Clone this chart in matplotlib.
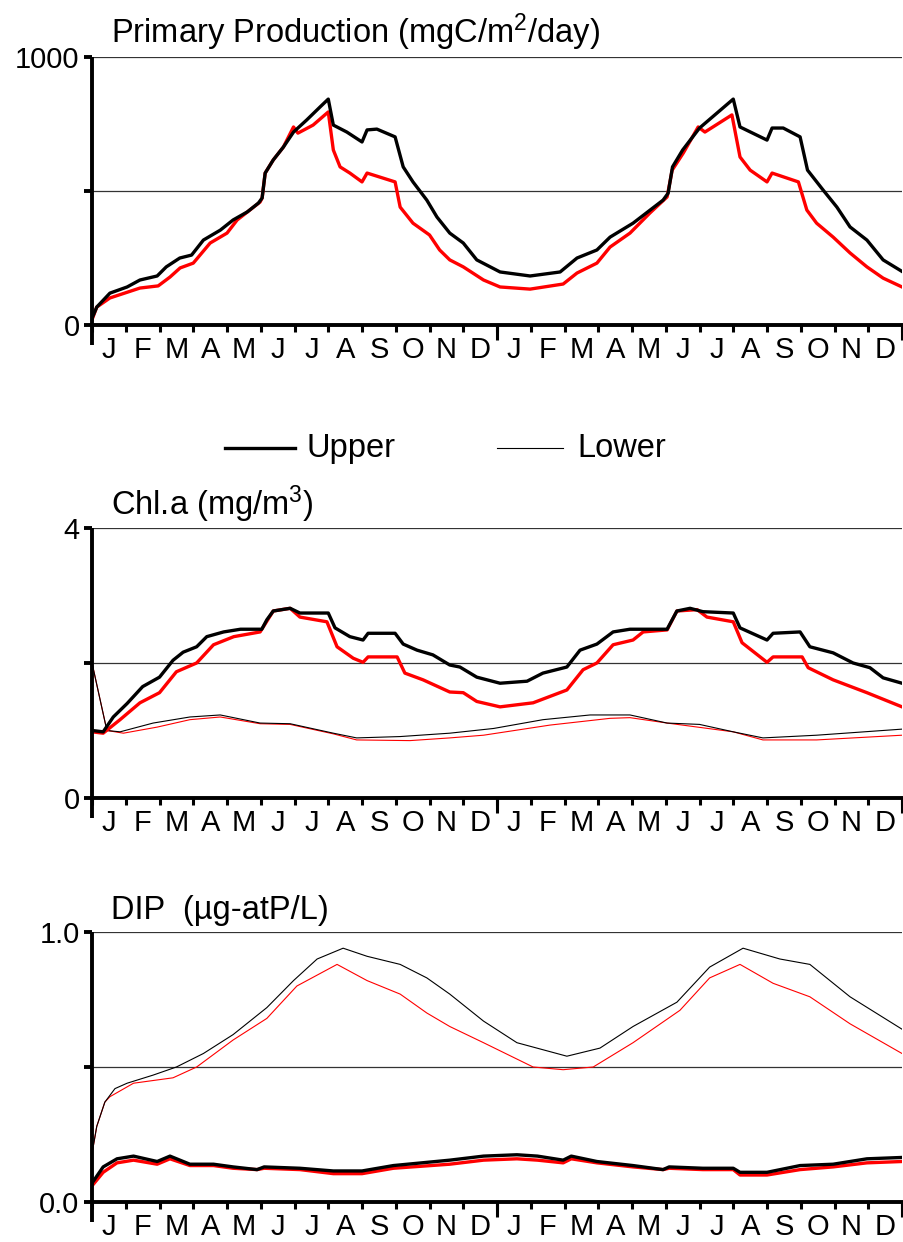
import numpy as np
import matplotlib
matplotlib.use('Agg')
import matplotlib.pyplot as plt
from matplotlib.lines import Line2D
from matplotlib.transforms import blended_transform_factory

plt.rcParams['font.family'] = ['Liberation Sans', 'DejaVu Sans']
plt.rcParams['mathtext.fontset'] = 'custom'
plt.rcParams['mathtext.rm'] = 'Liberation Sans'
plt.rcParams['mathtext.it'] = 'Liberation Sans'

months = ['J', 'F', 'M', 'A', 'M', 'J', 'J', 'A', 'S', 'O', 'N', 'D'] * 2

# ---- Primary production (mgC/m2/day), upper layer only ----
pp_up_black_m = [0, 0.14, 0.53, 1.04, 1.42, 1.93, 2.2, 2.6, 2.95, 3.3, 3.8, 4.18, 4.6, 4.93, 5.04,
                 5.13, 5.37, 5.67, 5.97, 6.36, 6.76, 7.0, 7.15, 7.55, 8.0, 8.15, 8.44, 8.98, 9.22,
                 9.51, 9.92, 10.22, 10.6, 11.0, 11.4, 12.09, 12.98, 13.87, 14.37, 14.96, 15.35,
                 16.03, 16.92, 17.07, 17.2, 17.5, 18.0, 19.0, 19.2, 20.0, 20.15, 20.48, 20.98,
                 21.2, 21.66, 22.07, 22.46, 22.96, 23.44, 24.0]
pp_up_black = [25, 67, 119, 142, 168, 183, 217, 250, 261, 317, 354, 392, 422, 455, 474,
               567, 616, 664, 720, 765, 814, 843, 746, 720, 683, 728, 731, 702, 590,
               534, 466, 403, 343, 306, 243, 198, 183, 198, 250, 280, 328,
               380, 466, 492, 590, 653, 735, 843, 739, 690, 735, 735, 702,
               578, 504, 440, 366, 317, 243, 200]
pp_up_red_m = [0, 0.14, 0.53, 1.42, 1.96, 2.31, 2.61, 3.0, 3.2, 3.5, 4.0, 4.3, 4.98, 5.04, 5.13,
               5.37, 5.67, 5.97, 6.1, 6.55, 7.0, 7.15, 7.35, 7.64, 8.0, 8.15, 8.98, 9.13, 9.51,
               10.0, 10.3, 10.6, 11.0, 11.6, 12.09, 12.98, 13.96, 14.37, 14.96, 15.35, 15.94,
               16.53, 17.04, 17.19, 17.52, 17.96, 18.16, 18.96, 19.2, 19.5, 20.0, 20.15, 20.93,
               21.18, 21.47, 21.96, 22.46, 22.96, 23.44, 24.0]
pp_up_red = [20, 67, 101, 138, 146, 179, 213, 231, 261, 306, 343, 392, 459, 474, 567,
             616, 664, 739, 716, 746, 795, 653, 590, 567, 534, 567, 534, 440, 380,
             336, 280, 243, 217, 168, 142, 134, 153, 194, 231, 291, 343,
             418, 478, 578, 642, 739, 720, 784, 627, 578, 534, 567, 534,
             429, 380, 328, 269, 217, 175, 142]

# ---- Chl.a (mg/m3) ----
chl_up_black_m = [0, 0.33, 0.63, 1.04, 1.5, 2.0, 2.4, 2.7, 3.1, 3.4, 3.9, 4.4, 5.03, 5.18, 5.37,
                  5.87, 6.16, 7.0, 7.2, 7.64, 8.03, 8.18, 8.98, 9.22, 9.63, 10.1, 10.6, 10.9,
                  11.4, 12.09, 12.89, 13.36, 14.07, 14.46, 14.96, 15.44, 15.94, 17.04, 17.33,
                  17.72, 18.1, 19.0, 19.2, 20.0, 20.18, 20.98, 21.27, 21.96, 22.55, 23.05, 23.44, 24.0]
chl_up_black = [1.0, 0.98, 1.2, 1.4, 1.65, 1.79, 2.04, 2.16, 2.24, 2.39, 2.46, 2.5, 2.5, 2.64, 2.77,
                2.81, 2.74, 2.74, 2.52, 2.39, 2.34, 2.44, 2.44, 2.28, 2.19, 2.12, 1.97, 1.94,
                1.79, 1.7, 1.73, 1.85, 1.94, 2.19, 2.28, 2.46, 2.5, 2.5, 2.77,
                2.81, 2.76, 2.74, 2.52, 2.34, 2.44, 2.46, 2.24, 2.15, 2.0, 1.93, 1.78, 1.7]
chl_up_red_m = [0, 0.33, 0.83, 1.42, 2.0, 2.5, 3.1, 3.6, 4.2, 4.98, 5.37, 5.87, 6.16, 6.96, 7.26,
                7.74, 8.03, 8.18, 9.04, 9.27, 9.81, 10.6, 11.0, 11.4, 12.09, 13.07, 14.07, 14.55,
                14.96, 15.44, 16.03, 16.33, 17.04, 17.33, 17.93, 18.22, 19.0, 19.26, 20.0, 20.18,
                21.04, 21.22, 21.96, 22.96, 24.0]
chl_up_red = [0.98, 0.96, 1.16, 1.41, 1.56, 1.87, 2.0, 2.27, 2.39, 2.46, 2.77, 2.81, 2.68, 2.61, 2.24,
              2.07, 2.01, 2.09, 2.09, 1.85, 1.75, 1.57, 1.56, 1.43, 1.35, 1.41, 1.6, 1.9,
              2.0, 2.27, 2.34, 2.46, 2.49, 2.77, 2.79, 2.68, 2.61, 2.3, 2.01, 2.09,
              2.09, 1.93, 1.75, 1.56, 1.35]
chl_lo_black_m = [0, 0.44, 0.83, 1.81, 2.9, 3.8, 4.98, 5.87, 7.15, 7.84, 9.13, 10.6, 11.9, 13.36,
                  14.76, 15.94, 17.04, 18.0, 19.0, 19.88, 21.47, 24.0]
chl_lo_black = [2.0, 1.0, 0.98, 1.11, 1.2, 1.23, 1.11, 1.1, 0.96, 0.89, 0.91, 0.96, 1.03, 1.16,
                1.23, 1.23, 1.11, 1.09, 0.98, 0.89, 0.93, 1.02]
chl_lo_red_m = [0, 0.44, 0.93, 1.93, 2.9, 3.8, 4.98, 5.87, 7.15, 7.84, 9.42, 10.6, 11.6, 13.57,
                15.35, 15.94, 17.04, 19.0, 19.88, 21.47, 24.0]
chl_lo_red = [2.0, 1.0, 0.96, 1.05, 1.16, 1.2, 1.1, 1.09, 0.95, 0.86, 0.85, 0.89, 0.93, 1.08,
              1.18, 1.19, 1.11, 0.98, 0.86, 0.86, 0.93]

# ---- DIP (ug-atP/L) ----
dip_lo_black_m = [0, 0.14, 0.38, 0.68, 1.04, 1.81, 2.5, 3.3, 4.18, 5.18, 5.97, 6.67, 7.44, 8.15,
                  9.13, 9.92, 10.6, 11.6, 12.59, 14.07, 15.05, 16.03, 17.33, 18.3, 19.29, 20.38,
                  21.27, 22.46, 24.0]
dip_lo_black = [0.18, 0.28, 0.37, 0.42, 0.44, 0.47, 0.5, 0.55, 0.62, 0.72, 0.82, 0.9, 0.94, 0.91,
                0.88, 0.83, 0.77, 0.67, 0.59, 0.54, 0.57, 0.65, 0.74, 0.87, 0.94, 0.9,
                0.88, 0.76, 0.64]
dip_lo_red_m = [0, 0.14, 0.38, 0.53, 1.23, 2.4, 3.1, 4.18, 5.18, 6.07, 7.26, 8.15, 9.13, 9.92,
                10.6, 11.6, 13.07, 13.96, 14.85, 16.03, 17.42, 18.3, 19.2, 20.18, 21.27, 22.46, 24.0]
dip_lo_red = [0.18, 0.28, 0.37, 0.39, 0.44, 0.46, 0.5, 0.6, 0.68, 0.8, 0.88, 0.82, 0.77, 0.7,
              0.65, 0.59, 0.5, 0.49, 0.5, 0.59, 0.71, 0.83, 0.88, 0.81, 0.76, 0.66, 0.55]
dip_up_m = [0, 0.33, 0.74, 1.23, 1.93, 2.31, 2.9, 3.6, 4.18, 4.89, 5.1, 6.16, 7.15, 8.0, 8.93,
            10.6, 11.6, 12.59, 13.2, 13.96, 14.2, 14.96, 16.03, 16.92, 17.1, 18.1, 19.0, 19.2,
            20.0, 20.98, 21.96, 22.96, 24.0]
dip_up_black = [0.07, 0.13, 0.16, 0.17, 0.15, 0.17, 0.14, 0.14, 0.13, 0.12, 0.13, 0.125, 0.115,
                0.115, 0.135, 0.155, 0.17, 0.175, 0.17, 0.155, 0.17, 0.15, 0.135, 0.12, 0.13,
                0.125, 0.125, 0.11, 0.11, 0.135, 0.14, 0.16, 0.165]
dip_up_red = [0.06, 0.11, 0.145, 0.155, 0.14, 0.16, 0.135, 0.135, 0.125, 0.12, 0.125, 0.12, 0.105,
              0.105, 0.125, 0.14, 0.155, 0.16, 0.155, 0.145, 0.16, 0.145, 0.13, 0.12, 0.125,
              0.12, 0.12, 0.1, 0.1, 0.12, 0.13, 0.145, 0.15]

THICK = 2.4
THIN = 0.8
SPINE = 2.8
FS = 21


def style_axis(ax, ymax, ylabels, title, title_dy):
    ax.set_xlim(0, 24)
    ax.set_ylim(0, ymax)
    for s in ['top', 'right']:
        ax.spines[s].set_visible(False)
    ax.spines['left'].set_linewidth(SPINE)
    ax.spines['bottom'].set_linewidth(SPINE)
    ax.spines['left'].set_capstyle('butt')
    # grid lines at mid and top
    for yv in [ymax / 2, ymax]:
        ax.axhline(yv, color='#333333', lw=0.9, zorder=0)
    ax.set_yticks([0, ymax / 2, ymax])
    ax.set_yticklabels(ylabels)
    ax.tick_params(axis='y', direction='out', length=6, width=SPINE, labelsize=FS, pad=3)
    # month boundaries
    ax.set_xticks(np.arange(0, 25))
    ax.set_xticklabels([''] * 25)
    ax.tick_params(axis='x', which='major', direction='out', length=5, width=2.2)
    ax.set_xticks(np.arange(24) + 0.5, minor=True)
    ax.set_xticklabels(months, minor=True)
    ax.tick_params(axis='x', which='minor', length=0, labelsize=FS, pad=8)
    trans = blended_transform_factory(ax.transData, ax.transAxes)
    for xv in [12, 24]:
        ax.plot([xv, xv], [0, -0.055], transform=trans, color='black', lw=2.2,
                clip_on=False, solid_capstyle='butt')
    ax.plot([0, 0], [0, -0.075], transform=trans, color='black', lw=SPINE,
            clip_on=False, solid_capstyle='butt')
    ax.text(0.0235, 1 + title_dy, title, transform=ax.transAxes, fontsize=23.5,
            ha='left', va='baseline')


fig = plt.figure(figsize=(9.04, 12.42), dpi=100)

ax1 = fig.add_axes([0.1018, 0.7383, 0.896, 0.2158])
ax1.plot(pp_up_red_m, pp_up_red, color='red', lw=THICK)
ax1.plot(pp_up_black_m, pp_up_black, color='black', lw=THICK)
style_axis(ax1, 1000, ['0', '', '1000'], r'Primary Production (mgC/m$^{2}$/day)', 0.052)

ax2 = fig.add_axes([0.1018, 0.3575, 0.896, 0.2174])
ax2.plot(chl_lo_red_m, chl_lo_red, color='red', lw=THIN)
ax2.plot(chl_lo_black_m, chl_lo_black, color='black', lw=THIN)
ax2.plot(chl_up_red_m, chl_up_red, color='red', lw=THICK)
ax2.plot(chl_up_black_m, chl_up_black, color='black', lw=THICK)
style_axis(ax2, 4, ['0', '', '4'], r'Chl.a (mg/m$^{3}$)', 0.048)

ax3 = fig.add_axes([0.1018, 0.0322, 0.896, 0.2174])
ax3.plot(dip_lo_red_m, dip_lo_red, color='red', lw=THIN)
ax3.plot(dip_lo_black_m, dip_lo_black, color='black', lw=THIN)
ax3.plot(dip_up_m, dip_up_red, color='red', lw=THICK)
ax3.plot(dip_up_m, dip_up_black, color='black', lw=THICK)
style_axis(ax3, 1.0, ['0.0', '', '1.0'], 'DIP  (\u00b5g-atP/L)', 0.048)

# legend between panels
ly = 1 - 448 / 1242
fig.add_artist(Line2D([225 / 904, 295 / 904], [ly, ly], color='black', lw=THICK))
fig.text(307 / 904, ly, 'Upper', fontsize=23.5, va='center', ha='left')
fig.add_artist(Line2D([497 / 904, 563 / 904], [ly, ly], color='black', lw=THIN))
fig.text(577 / 904, ly, 'Lower', fontsize=23.5, va='center', ha='left')

fig.savefig('out.png', dpi=100)
